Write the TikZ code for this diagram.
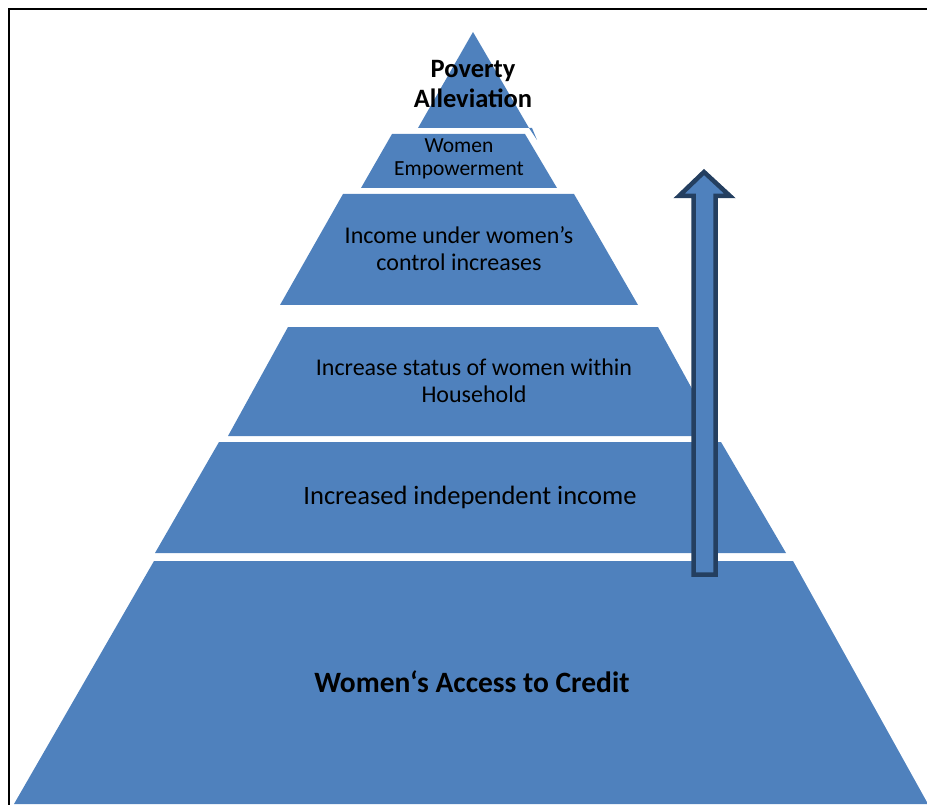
\documentclass[tikz,border=0pt]{standalone}
\usepackage{fontspec}
\setmainfont{Carlito}
\usetikzlibrary{positioning}
\definecolor{tierblue}{HTML}{4F81BD}
\definecolor{arrowline}{HTML}{243F60}
\tikzstyle{tier}=[fill=tierblue, draw=none]
\tikzstyle{lbl}=[align=center, inner sep=0pt, text=black]
\tikzstyle{up}=[fill=tierblue, draw=arrowline, line width=4.5pt, line join=miter]

\begin{document}
\begin{tikzpicture}[x=1pt, y=-1pt]
\useasboundingbox (0,0) rectangle (927,805);
%
  \draw[line width=2pt] (927,9) -- (9,9) -- (9,805);
%
  % tiers, base first
  \fill[tier] (14,804) -- (154,561) -- (793,561) -- (928,804) -- cycle;
  \fill[tier] (155,553) -- (219,442) -- (721,442) -- (786,553) -- cycle;
  \fill[tier] (228,436) -- (288,327) -- (658,327) -- (718,436) -- cycle;
  \fill[tier] (280,305) -- (343,194) -- (574,194) -- (638,305) -- cycle;
  \fill[tier] (361,188) -- (392,134) -- (525,134) -- (557,188) -- cycle;
  \fill[tier] (418,128) -- (473,32) -- (529,128) -- cycle;
  \fill[tier] (529,128) -- (537,140) -- (532,128) -- cycle;
%
  \draw[up] (693.5,574.5) -- (693.5,196) -- (679,196) -- (704,172)
    -- (730,196) -- (715.5,196) -- (715.5,574.5) -- cycle;
%
  \node[lbl, font=\fontsize{29.5}{34}\bfseries] (credit) at (472,682) {Women‘s Access to Credit};
  \node[lbl, font=\fontsize{26.5}{30}\selectfont] (indep) at (470,497) {Increased independent income};
  \node[lbl, font=\fontsize{24}{27}\selectfont] (status) at (474,381) {Increase status of women within\\Household};
  \node[lbl, font=\fontsize{24}{27}\selectfont] (control) at (459,249) {Income under women’s\\control increases};
  \node[lbl, font=\fontsize{21.5}{23}\selectfont] (empower) at (459,159) {Women\\Empowerment};
  \node[lbl, font=\fontsize{26.5}{30}\bfseries] (poverty) at (473,84) {Poverty\\Alleviation};
\end{tikzpicture}
\end{document}
